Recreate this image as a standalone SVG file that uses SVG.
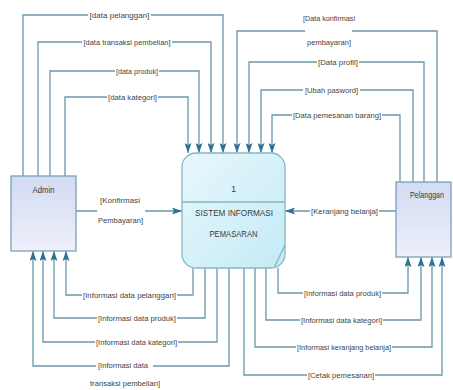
<svg xmlns="http://www.w3.org/2000/svg" width="453" height="390" viewBox="0 0 453 390">
<style>
.c{fill:none;stroke:#6a98a8;stroke-width:1.3}
.t{font-family:"Liberation Sans",Arial,sans-serif;font-size:8px;fill:#444444;text-anchor:middle}
.n{font-family:"Liberation Sans",Arial,sans-serif;font-size:8.5px;fill:#3a3a3a;text-anchor:middle}
.ent{stroke:#7aa0b8;stroke-width:1.3}
</style>
<defs>
<linearGradient id="ge" x1="0" y1="0" x2="0" y2="1">
<stop offset="0" stop-color="#d2dbf3"/>
<stop offset="1" stop-color="#eef0fa"/>
</linearGradient>
<linearGradient id="gp" x1="0" y1="0" x2="1" y2="1">
<stop offset="0" stop-color="#e8f7fb"/>
<stop offset="1" stop-color="#c4ebf6"/>
</linearGradient>
<marker id="a" markerUnits="userSpaceOnUse" markerWidth="11" markerHeight="7" refX="10" refY="3.5" orient="auto">
<path d="M0,0 L10,3.5 L0,7 L2,3.5 z" fill="#2c7196"/>
</marker>
</defs>
<rect width="453" height="390" fill="#ffffff"/>
<g id="connectors">
<path class="c" marker-end="url(#a)" d="M23,176 V15 H88 M151,15 H223 V153"/>
<path class="c" marker-end="url(#a)" d="M38,176 V42 H82 M172,42 H211 V153"/>
<path class="c" marker-end="url(#a)" d="M50,176 V71 H115 M159,71 H199 V153"/>
<path class="c" marker-end="url(#a)" d="M65,176 V97 H107 M158,97 H188 V153"/>
<path class="c" marker-end="url(#a)" d="M437,182 V31 H352 M305,31 H237 V153"/>
<path class="c" marker-end="url(#a)" d="M424,182 V62 H359 M317,62 H249 V153"/>
<path class="c" marker-end="url(#a)" d="M413,182 V90 H360 M303,90 H261 V153"/>
<path class="c" marker-end="url(#a)" d="M400,182 V115 H382 M292,115 H272 V153"/>
<path class="c" marker-end="url(#a)" d="M76,211 H97 M145,211 H182"/>
<path class="c" marker-end="url(#a)" d="M396,211 H379 M310,211 H285"/>
<path class="c" marker-end="url(#a)" d="M193,268 V295 H177 M82,295 H66 V251"/>
<path class="c" marker-end="url(#a)" d="M205,268 V318 H177 M97,318 H54 V251"/>
<path class="c" marker-end="url(#a)" d="M217,268 V342 H178 M95,342 H43 V251"/>
<path class="c" marker-end="url(#a)" d="M229,268 V366 H153 M96,366 H33 V251"/>
<path class="c" marker-end="url(#a)" d="M278,268 V293 H303 M382,293 H408 V257"/>
<path class="c" marker-end="url(#a)" d="M266,268 V320 H300 M383,320 H421 V257"/>
<path class="c" marker-end="url(#a)" d="M255,268 V347 H296 M392,347 H432 V257"/>
<path class="c" marker-end="url(#a)" d="M244,268 V375 H307 M375,375 H442 V257"/>
</g>
<g id="labels">
<text class="t" x="119.5" y="17.8" textLength="60" lengthAdjust="spacingAndGlyphs">[data pelanggan]</text>
<text class="t" x="127" y="44.8" textLength="87" lengthAdjust="spacingAndGlyphs">[data transaksi pembelian]</text>
<text class="t" x="137" y="73.8" textLength="42" lengthAdjust="spacingAndGlyphs">[data produk]</text>
<text class="t" x="132.5" y="99.8" textLength="49" lengthAdjust="spacingAndGlyphs">[data kategori]</text>
<text class="t" x="329" y="20.8" textLength="52" lengthAdjust="spacingAndGlyphs">[Data konfirmasi</text>
<text class="t" x="329" y="44.8" textLength="44" lengthAdjust="spacingAndGlyphs">pembayaran]</text>
<text class="t" x="338" y="64.8" textLength="40" lengthAdjust="spacingAndGlyphs">[Data profil]</text>
<text class="t" x="331.5" y="92.8" textLength="53" lengthAdjust="spacingAndGlyphs">[Ubah pasword]</text>
<text class="t" x="337" y="117.8" textLength="88" lengthAdjust="spacingAndGlyphs">[Data pemesanan barang]</text>
<text class="t" x="120" y="202.8" textLength="40" lengthAdjust="spacingAndGlyphs">[Konfirmasi</text>
<text class="t" x="120.5" y="222.8" textLength="45" lengthAdjust="spacingAndGlyphs">Pembayaran]</text>
<text class="t" x="344.5" y="213.8" textLength="67" lengthAdjust="spacingAndGlyphs">[Keranjang belanja]</text>
<text class="t" x="129.5" y="297.8" textLength="93" lengthAdjust="spacingAndGlyphs">[Informasi data pelanggan]</text>
<text class="t" x="137" y="320.8" textLength="78" lengthAdjust="spacingAndGlyphs">[Informasi data produk]</text>
<text class="t" x="136.5" y="344.8" textLength="81" lengthAdjust="spacingAndGlyphs">[Informasi data kategori]</text>
<text class="t" x="123" y="367.8" textLength="50" lengthAdjust="spacingAndGlyphs">[Informasi data</text>
<text class="t" x="125" y="385.8" textLength="70" lengthAdjust="spacingAndGlyphs">transaksi pembelian]</text>
<text class="t" x="342.5" y="295.8" textLength="77" lengthAdjust="spacingAndGlyphs">[Informasi data produk]</text>
<text class="t" x="341.5" y="322.8" textLength="81" lengthAdjust="spacingAndGlyphs">[Informasi data kategori]</text>
<text class="t" x="344" y="349.8" textLength="94" lengthAdjust="spacingAndGlyphs">[Informasi keranjang belanja]</text>
<text class="t" x="341" y="377.8" textLength="66" lengthAdjust="spacingAndGlyphs">[Cetak pemesanan]</text>
</g>
<g id="admin">
<rect class="ent" x="11" y="176" width="65" height="75" fill="url(#ge)"/>
<text class="n" x="43.5" y="193" textLength="22" lengthAdjust="spacingAndGlyphs">Admin</text>
</g>
<g id="pelanggan">
<rect class="ent" x="396" y="182" width="55" height="75" fill="url(#ge)"/>
<text class="n" x="427" y="198" textLength="34" lengthAdjust="spacingAndGlyphs">Pelanggan</text>
</g>
<g id="process">
<rect x="182" y="153" width="103" height="115" rx="14" ry="14" fill="url(#gp)" stroke="#86b6c6" stroke-width="1.3"/>
<line x1="182" y1="202" x2="285" y2="202" stroke="#86b6c6" stroke-width="1.3"/>
<line x1="285" y1="245" x2="274" y2="268" stroke="#86b6c6" stroke-width="1.3"/>
<text class="n" x="233.5" y="192">1</text>
<text class="n" x="234" y="216" textLength="78" lengthAdjust="spacingAndGlyphs">SISTEM INFORMASI</text>
<text class="n" x="233.5" y="237" textLength="48" lengthAdjust="spacingAndGlyphs">PEMASARAN</text>
</g>
</svg>
